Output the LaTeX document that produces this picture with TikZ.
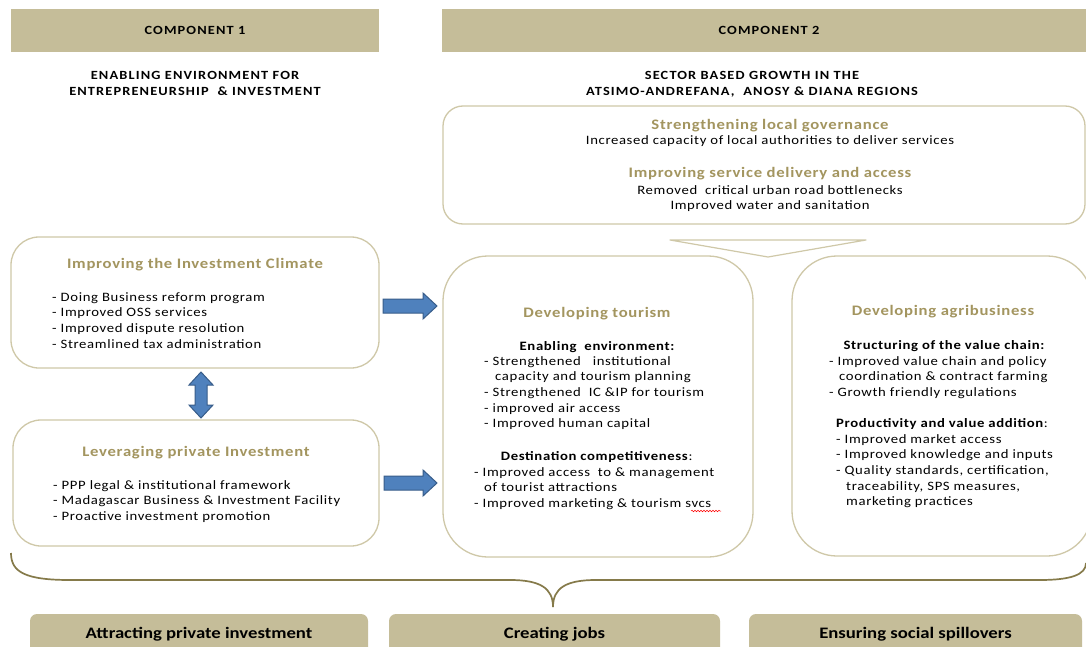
\documentclass[tikz,border=0pt]{standalone}
\usepackage{fontspec}
\setmainfont{Carlito}
\newfontfamily\bodyf[FakeStretch=1.15,LetterSpace=5]{Carlito}
\newfontfamily\hdf[FakeStretch=1.15,LetterSpace=9]{Carlito}
\newfontfamily\ttlf[FakeStretch=1.15,LetterSpace=5]{Carlito}
\newfontfamily\outf[FakeStretch=1.17]{Carlito}
\usetikzlibrary{calc,decorations.pathmorphing}
\definecolor{barc}{HTML}{C5BD99}
\definecolor{boxc}{HTML}{CFC8A8}
\definecolor{ttlc}{HTML}{A3955F}
\definecolor{bracec}{HTML}{857A4A}
\definecolor{arrf}{HTML}{4F81BD}
\definecolor{arrd}{HTML}{385D8A}
\begin{document}
\begin{tikzpicture}[x=1pt,y=-1pt,
 bar/.style={fill=barc, draw=none, inner sep=0},
 box/.style={draw=boxc, line width=1.3pt, inner sep=0},
 hd/.style={font=\hdf\bfseries\fontsize{12.5}{16}\selectfont, align=center, inner sep=0},
 ttl/.style={text=ttlc, font=\ttlf\bfseries\fontsize{14.5}{17}\selectfont, inner sep=0, anchor=base},
 bd/.style={font=\bodyf\fontsize{12.8}{15.7}\selectfont, inner sep=0, align=left, anchor=north west},
 bdc/.style={font=\bodyf\fontsize{12.8}{15.7}\selectfont, inner sep=0, align=center, anchor=north},
 sub/.style={font=\bodyf\bfseries\fontsize{12.8}{15.7}\selectfont, inner sep=0, anchor=base},
 outc/.style={font=\outf\bfseries\fontsize{16}{18}\selectfont, inner sep=0},
 blk/.style={fill=arrf, draw=arrd, line width=1pt, line join=miter},
]
\clip (0,0) rectangle (1086,647);
\fill[white] (0,0) rectangle (1086,647);

% component bars
\node[bar, hd, minimum width=368, minimum height=43] (c1) at (195,30.5) {COMPONENT 1};
\node[bar, minimum width=654, minimum height=43] (c2) at (769,30.5) {};
\node[hd] (c2t) at (769,30.5) {COMPONENT 2};

\node[hd, anchor=north] (h1) at (195,67.8) {\strut ENABLING ENVIRONMENT FOR\\ENTREPRENEURSHIP \ \& INVESTMENT};
\node[hd, anchor=north] (h2) at (752,67.8) {\strut SECTOR BASED GROWTH IN THE\\ATSIMO-ANDREFANA, \ ANOSY \& DIANA REGIONS};

% governance box
\node[box, rounded corners=20, minimum width=642, minimum height=118] (gov) at (764,165) {};
\node[ttl] (gt1) at (770,130) {Strengthening local governance};
\node[sub, font=\bodyf\fontsize{12.8}{15.7}\selectfont] (gb1) at (770,145) {Increased capacity of local authorities to deliver services};
\node[ttl] (gt2) at (770,178) {Improving service delivery and access};
\node[bdc] (gb2) at (770,183) {\strut Removed \ critical urban road bottlenecks\\Improved water and sanitation};

% chevron
\draw[boxc, line width=1.2pt, line join=round] (670,240) -- (866,240) -- (768,257) -- cycle;

% investment climate
\node[box, rounded corners=28, minimum width=368, minimum height=131] (clim) at (195,302.5) {};
\node[ttl] (clt) at (195,268) {Improving the Investment Climate};
\node[bd] (clb) at (52,290) {\strut - Doing Business reform program\\- Improved OSS services\\- Improved dispute resolution\\- Streamlined tax administration};

% leveraging
\node[box, rounded corners=28, minimum width=366, minimum height=126] (lev) at (196,483) {};
\node[ttl] (lvt) at (196,456) {Leveraging private Investment};
\node[bd] (lvb) at (53,478) {\strut - PPP legal \& institutional framework\\- Madagascar Business \& Investment Facility\\- Proactive investment promotion};

% tourism
\node[box, rounded corners=45, minimum width=310, minimum height=301] (tour) at (598,406.5) {};
\node[ttl] (tot) at (597,317) {Developing tourism};
\node[sub] (tos1) at (597,350) {Enabling \ environment:};
\node[bd] (tob1) at (484,354) {\strut - Strengthened \ \ institutional\\\hspace*{11pt}capacity and tourism planning\\- Strengthened \ IC \&IP for tourism\\- improved air access\\- Improved human capital};
\node[sub] (tos2) at (597,460) {Destination competitiveness\textmd{:}};
\node[bd] (tob2) at (474,465) {\strut - Improved access \ to \& management\\\hspace*{10pt}of tourist attractions\\- Improved marketing \& tourism svcs};
\draw[red, line width=0.5pt, decorate, decoration={snake, amplitude=0.8pt, segment length=3pt}] (691,511) -- (721,511);

% agribusiness
\node[box, rounded corners=45, minimum width=300, minimum height=300] (agri) at (942,406) {};
\node[ttl] (agt) at (943,315) {Developing agribusiness};
\node[sub] (ags1) at (944,349) {Structuring of the value chain:};
\node[bd] (agb1) at (829,354) {\strut - Improved value chain and policy\\\hspace*{10pt}coordination \& contract farming\\- Growth friendly regulations};
\node[sub, anchor=base west] (ags2) at (836,427) {Productivity and value addition\textmd{:}};
\node[bd] (agb2) at (836,432) {\strut - Improved market access\\- Improved knowledge and inputs\\- Quality standards, certification,\\\hspace*{10pt}traceability, SPS measures,\\\hspace*{10pt}marketing practices};

% block arrows
\coordinate (a1) at (383,306);
\draw[blk] (a1) ++(0,-7) -- ++(40,0) -- ++(0,-6) -- ++(14,13) -- ++(-14,13) -- ++(0,-6) -- ++(-40,0) -- cycle;
\coordinate (a2) at (384,483);
\draw[blk] (a2) ++(0,-7) -- ++(39,0) -- ++(0,-6) -- ++(14,13) -- ++(-14,13) -- ++(0,-6) -- ++(-39,0) -- cycle;
\coordinate (a3) at (201,372);
\draw[blk] (a3) -- ++(12,13) -- ++(-6,0) -- ++(0,20) -- ++(6,0) -- ++(-12,13) -- ++(-12,-13) -- ++(6,0) -- ++(0,-20) -- ++(-6,0) -- cycle;

% brace
\coordinate (bl) at (11,553);
\coordinate (bt) at (553,607);
\coordinate (br) at (1086,563);
\draw[bracec, line width=1.7pt] (bl) .. controls (11,572) and (25,580) .. (70,580) -- (510,580) .. controls (540,580) and (553,588) .. (bt);
\draw[bracec, line width=1.7pt] (bt) .. controls (553,588) and (566,580) .. (596,580) -- (1040,580) .. controls (1070,580) and (1086,575) .. (br);

% outcome bars
\node[bar, outc, rounded corners=7, minimum width=338, minimum height=40] (o1) at (199,634) {Attracting private investment};
\node[bar, outc, rounded corners=7, minimum width=331, minimum height=40] (o2) at (554.5,634) {Creating jobs};
\node[bar, outc, rounded corners=7, minimum width=333, minimum height=40] (o3) at (915.5,634) {Ensuring social spillovers};
\end{tikzpicture}
\end{document}
